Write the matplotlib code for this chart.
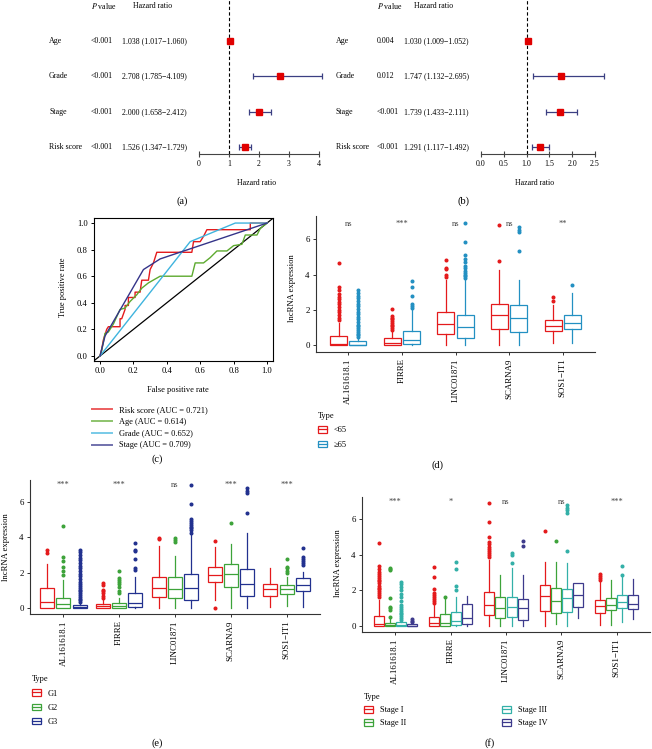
import numpy as np
import matplotlib.pyplot as plt
from matplotlib.patches import Patch
from matplotlib.lines import Line2D
from matplotlib.transforms import blended_transform_factory

plt.rcParams['font.family'] = ['Liberation Serif', 'DejaVu Serif']
plt.rcParams['mathtext.fontset'] = 'stix'

W, H = 652, 749

# ---------------- data ----------------
# forest plots (a) univariate, (b) multivariate
var_names = ["Age", "Grade", "Stage", "Risk score"]
uni_p = ["<0.001", "<0.001", "<0.001", "<0.001"]
uni_hr = [1.038, 2.708, 2.000, 1.526]
uni_lo = [1.017, 1.785, 1.658, 1.347]
uni_hi = [1.060, 4.109, 2.412, 1.729]
multi_p = ["0.004", "0.012", "<0.001", "<0.001"]
multi_hr = [1.030, 1.747, 1.739, 1.291]
multi_lo = [1.009, 1.132, 1.433, 1.117]
multi_hi = [1.052, 2.695, 2.111, 1.492]

# ROC curves (c)
risk_fpr = [0, 0.01, 0.02, 0.04, 0.05, 0.12, 0.12, 0.13, 0.15, 0.15, 0.17, 0.17, 0.21, 0.21, 0.24, 0.25,
            0.29, 0.30, 0.32, 0.33, 0.34, 0.55, 0.56, 0.60, 0.62, 0.64, 0.90, 0.90, 1.0]
risk_tpr = [0, 0.05, 0.12, 0.20, 0.22, 0.22, 0.28, 0.28, 0.35, 0.38, 0.38, 0.44, 0.44, 0.48, 0.48, 0.57,
            0.57, 0.65, 0.70, 0.74, 0.78, 0.78, 0.86, 0.86, 0.90, 0.95, 0.95, 1.0, 1.0]
age_fpr = [0, 0.01, 0.03, 0.05, 0.08, 0.12, 0.15, 0.18, 0.22, 0.25, 0.29, 0.36, 0.55, 0.57, 0.62, 0.66,
           0.70, 0.76, 0.80, 0.85, 0.87, 0.94, 0.96, 1.0]
age_tpr = [0, 0.04, 0.17, 0.18, 0.24, 0.35, 0.36, 0.41, 0.46, 0.51, 0.55, 0.60, 0.60, 0.70, 0.70, 0.74,
           0.79, 0.79, 0.83, 0.84, 0.91, 0.91, 0.96, 1.0]
grade_fpr = [0, 0.54, 0.81, 1.0]
grade_tpr = [0, 0.86, 1.0, 1.0]
stage_fpr = [0, 0.03, 0.26, 0.36, 1.0]
stage_tpr = [0, 0.15, 0.65, 0.73, 1.0]
roc_labels = ["Risk score (AUC = 0.721)", "Age (AUC = 0.614)", "Grade (AUC = 0.652)", "Stage (AUC = 0.709)"]

# boxplots (d), (e), (f)
genes = ["AL161618.1", "FIRRE", "LINC01871", "SCARNA9", "SOS1\u2212IT1"]

d_lt65_q1 = [0.0, 0.0, 0.61, 0.91, 0.81]
d_lt65_med = [0.04, 0.13, 1.18, 1.69, 1.08]
d_lt65_q3 = [0.51, 0.38, 1.89, 2.31, 1.42]
d_lt65_lo = [0.0, 0.0, 0.0, 0.0, 0.1]
d_lt65_hi = [1.25, 0.8, 3.7, 4.26, 2.27]
d_lt65_out = [[1.42, 1.55, 1.7, 1.85, 2.0, 2.15, 2.3, 2.45, 2.6, 2.75, 2.9, 3.1, 3.31, 4.66],
              [0.85, 0.95, 1.05, 1.15, 1.25, 1.35, 1.45, 1.55, 1.65, 2.05],
              [3.85, 3.95, 4.3, 4.4, 4.83], [4.79, 6.8], [2.5, 2.7]]
d_ge65_q1 = [0.0, 0.04, 0.38, 0.76, 0.89]
d_ge65_med = [0.02, 0.28, 1.0, 1.55, 1.23]
d_ge65_q3 = [0.24, 0.81, 1.7, 2.29, 1.69]
d_ge65_lo = [0.0, 0.0, 0.0, 0.0, 0.1]
d_ge65_hi = [0.35, 2.0, 3.7, 3.7, 2.94]
d_ge65_out = [[0.45, 0.55, 0.65, 0.75, 0.85, 0.95, 1.05, 1.15, 1.3, 1.45, 1.6, 1.75, 1.9, 2.05, 2.2,
               2.35, 2.5, 2.65, 2.8, 2.95, 3.12],
              [2.1, 2.2, 2.3, 2.78, 3.3, 3.65],
              [3.8, 3.9, 4.0, 4.1, 4.2, 4.35, 4.5, 4.7, 4.9, 5.1, 5.87, 6.95],
              [5.36, 6.4, 6.55, 6.7], [3.39]]
d_sig = ["ns", "***", "ns", "ns", "**"]

e_g1_q1 = [0.0, 0.0, 0.66, 1.46, 0.69]
e_g1_med = [0.34, 0.13, 1.13, 1.88, 1.09]
e_g1_q3 = [1.13, 0.24, 1.74, 2.35, 1.35]
e_g1_lo = [0.0, 0.0, 0.0, 0.47, 0.09]
e_g1_hi = [2.5, 0.5, 3.5, 3.47, 2.25]
e_g1_out = [[3.13, 3.28], [0.56, 0.7, 0.85, 0.95, 1.05, 1.3, 1.45], [3.9, 3.94], [0.0, 3.8], []]
e_g2_q1 = [0.04, 0.02, 0.56, 1.18, 0.81]
e_g2_med = [0.22, 0.12, 1.07, 1.91, 1.07]
e_g2_q3 = [0.6, 0.28, 1.74, 2.48, 1.31]
e_g2_lo = [0.0, 0.0, 0.0, 0.0, 0.13]
e_g2_hi = [1.6, 0.6, 2.95, 3.62, 1.74]
e_g2_out = [[1.88, 2.1, 2.35, 2.68, 2.87, 4.63], [0.84, 1.0, 1.2, 1.35, 1.5, 1.6, 1.69, 2.12],
            [3.75, 3.85, 3.94], [4.82], [1.97, 2.1, 2.25, 2.35, 2.76]]
e_g3_q1 = [0.0, 0.09, 0.47, 0.71, 0.98]
e_g3_med = [0.06, 0.32, 1.13, 1.37, 1.31]
e_g3_q3 = [0.19, 0.84, 1.93, 2.21, 1.69]
e_g3_lo = [0.0, 0.0, 0.0, 0.0, 0.09]
e_g3_hi = [0.26, 1.78, 4.13, 4.26, 2.06]
e_g3_out = [[0.35, 0.45, 0.55, 0.65, 0.75, 0.85, 0.95, 1.05, 1.15, 1.25, 1.35, 1.5, 1.65, 1.8, 1.95,
             2.1, 2.25, 2.4, 2.55, 2.7, 2.85, 3.0, 3.15, 3.28],
            [2.16, 2.25, 2.76, 3.2, 3.28, 3.66],
            [4.25, 4.4, 4.5, 4.6, 4.7, 4.8, 4.9, 5.0, 5.87, 6.94],
            [5.35, 6.47, 6.6, 6.75], [2.44, 2.55, 2.65, 2.75, 2.87, 3.41]]
e_sig = ["***", "***", "ns", "***", "***"]

f_s1_q1 = [0.0, 0.02, 0.62, 0.86, 0.75]
f_s1_med = [0.11, 0.15, 1.2, 1.69, 1.14]
f_s1_q3 = [0.58, 0.52, 1.89, 2.3, 1.46]
f_s1_lo = [0.0, 0.0, 0.0, 0.0, 0.06]
f_s1_hi = [1.45, 1.2, 3.7, 3.6, 2.49]
f_s1_out = [[1.65, 1.75, 1.85, 1.95, 2.05, 2.15, 2.25, 2.4, 2.5, 2.6, 2.7, 2.8, 2.9, 3.05, 3.2, 3.37, 4.64],
            [1.3, 1.4, 1.5, 1.6, 1.75, 1.84, 2.1, 2.73, 3.3],
            [3.9, 4.0, 4.1, 4.2, 4.3, 4.46, 4.6, 4.74, 4.98, 5.84, 6.89], [5.34], [2.6, 2.7, 2.8, 2.92]]
f_s2_q1 = [0.0, 0.02, 0.43, 0.71, 0.9]
f_s2_med = [0.06, 0.15, 1.01, 1.42, 1.2]
f_s2_q3 = [0.19, 0.66, 1.61, 2.12, 1.55]
f_s2_lo = [0.0, 0.0, 0.0, 0.11, 0.06]
f_s2_hi = [0.45, 1.6, 2.87, 3.61, 2.58]
f_s2_out = [[0.52, 0.9, 1.0, 1.09, 1.55, 3.15, 3.22, 3.28], [1.65], [], [4.78], []]
f_s3_q1 = [0.0, 0.04, 0.49, 0.81, 0.99]
f_s3_med = [0.08, 0.3, 1.05, 1.55, 1.33]
f_s3_q3 = [0.24, 0.79, 1.65, 2.06, 1.74]
f_s3_lo = [0.0, 0.0, 0.0, 0.0, 0.24]
f_s3_hi = [0.3, 1.65, 3.24, 3.52, 2.77]
f_s3_out = [[0.34, 0.45, 0.55, 0.65, 0.75, 0.85, 0.95, 1.05, 1.2, 1.4, 1.6, 1.8, 2.0, 2.2, 2.35, 2.49],
            [2.02, 2.25, 3.18, 3.61], [3.52, 3.99, 4.08], [4.23, 6.33, 6.5, 6.65, 6.8], [2.87, 3.39]]
f_s4_q1 = [0.0, 0.09, 0.34, 1.09, 0.94]
f_s4_med = [0.02, 0.43, 1.03, 1.74, 1.22]
f_s4_q3 = [0.09, 1.22, 1.52, 2.43, 1.74]
f_s4_lo = [0.0, 0.0, 0.0, 0.43, 0.37]
f_s4_hi = [0.12, 1.69, 2.87, 2.43, 2.64]
f_s4_out = [[0.2, 0.3, 0.37], [], [4.49, 4.79], [], []]
f_sig = ["***", "*", "ns", "ns", "***"]

RED = "#E41A1C"
BLUE = "#2390C2"
GREEN = "#3DA33A"
NAVY = "#22318F"
TEAL = "#33B0A8"
PURPLE = "#3D3A8C"
AXC = "#333333"


def rect(x0, y0, x1, y1):
    # pixel box (origin top-left) -> figure fraction
    return [x0 / W, 1 - y1 / H, (x1 - x0) / W, (y1 - y0) / H]


def fx(x):
    return x / W


def fy(y):
    return 1 - y / H


fig = plt.figure(figsize=(W / 100, H / 100), dpi=100)


# ---------------- forest plots ----------------
def forest(box, xmax, ticks, ticklabels, hr, lo, hi, pvals, xcols, xlab, label, labpos):
    ax = fig.add_axes(rect(*box))
    rows = np.arange(1, len(hr) + 1)
    ax.set_xlim(0, xmax)
    ax.set_ylim(4.2, -0.17)
    ax.axvline(1, color='black', ls=(0, (3, 2)), lw=0.8)
    ax.errorbar(hr, rows, xerr=[np.array(hr) - np.array(lo), np.array(hi) - np.array(hr)],
                fmt='none', ecolor="#3B3F82", elinewidth=0.9, capsize=2.5, capthick=0.9, clip_on=False)
    ax.plot(hr, rows, 's', color="#E00000", ms=4.2, clip_on=False, zorder=5)
    for s in ['left', 'top', 'right']:
        ax.spines[s].set_visible(False)
    ax.spines['bottom'].set_bounds(0, xmax)
    ax.spines['bottom'].set_color('#444444')
    ax.set_yticks([])
    ax.set_xticks(ticks)
    ax.set_xticklabels(ticklabels, fontsize=5.7)
    ax.tick_params(axis='x', direction='inout', length=4.5, width=0.8, color='#444444', pad=2)
    ax.patch.set_alpha(0)
    tr = blended_transform_factory(fig.transFigure, ax.transData)
    fs = 5.7
    fig.text(fx(xcols[1]), 0, r"$\it{P}$ value", fontsize=fs, va='center', transform=tr)
    fig.text(fx(xcols[3]), 0, "Hazard ratio", fontsize=fs, va='center', transform=tr)
    for i in range(len(hr)):
        fig.text(fx(xcols[0]), rows[i], var_names[i], fontsize=fs, va='center', transform=tr)
        fig.text(fx(xcols[1]), rows[i], pvals[i], fontsize=fs, va='center', transform=tr)
        fig.text(fx(xcols[2]), rows[i], "%.3f (%.3f\u2212%.3f)" % (hr[i], lo[i], hi[i]),
                 fontsize=fs, va='center', transform=tr)
    fig.text(fx(xlab[0]), fy(xlab[1]), "Hazard ratio", fontsize=fs, ha='center', va='center')
    fig.text(fx(labpos[0]), fy(labpos[1]), label, fontsize=7.5, ha='center', va='center')


forest((199, 0, 319, 154), 4, [0, 1, 2, 3, 4], ["0", "1", "2", "3", "4"],
       uni_hr, uni_lo, uni_hi, uni_p, (49, 91, 122, 133), (257, 183), "(a)", (182, 201))
forest((481, 0, 595, 154), 2.5, [0, 0.5, 1, 1.5, 2, 2.5], ["0.0", "0.5", "1.0", "1.5", "2.0", "2.5"],
       multi_hr, multi_lo, multi_hi, multi_p, (336, 377, 404, 414), (535, 183), "(b)", (463, 201))

# ---------------- ROC (c) ----------------
axc = fig.add_axes(rect(94, 218, 273, 361))
axc.plot([-0.05, 1.05], [-0.05, 1.05], color='black', lw=0.9)
roc_colors = [RED, "#5DAA2F", "#3FB4DE", "#353489"]
roc_x = [risk_fpr, age_fpr, grade_fpr, stage_fpr]
roc_y = [risk_tpr, age_tpr, grade_tpr, stage_tpr]
handles = []
for xs, ys, c in zip(roc_x, roc_y, roc_colors):
    axc.plot(xs, ys, color=c, lw=1.0)
    handles.append(Line2D([], [], color=c, lw=1.4, alpha=0.7))
axc.set_xlim(-0.036, 1.036)
axc.set_ylim(-0.038, 1.038)
ticks = [0, 0.2, 0.4, 0.6, 0.8, 1.0]
axc.set_xticks(ticks)
axc.set_yticks(ticks)
axc.set_xticklabels(["%.1f" % t for t in ticks], fontsize=6.2)
axc.set_yticklabels(["%.1f" % t for t in ticks], fontsize=6.2)
axc.tick_params(length=2.5, width=0.7, pad=2)
for s in axc.spines.values():
    s.set_linewidth(0.8)
fig.text(fx(63), fy(287), "True positive rate", rotation=90, fontsize=6, ha='center', va='center')
fig.text(fx(178), fy(390), "False positive rate", fontsize=6, ha='center', va='center')
fig.legend(handles, roc_labels, loc='upper left', bbox_to_anchor=(fx(88), fy(402)), frameon=False,
           fontsize=6, handlelength=2.4, labelspacing=0.45, handletextpad=0.8, borderpad=0)
fig.text(fx(157), fy(459), "(c)", fontsize=7.5, ha='center', va='center')


# ---------------- boxplots ----------------
def box_panel(box, ylim, groups, colors, offsets, width, sig, sig_y, ylab_pos):
    ax = fig.add_axes(rect(*box))
    for (q1, med, q3, lo, hi, out), c, off in zip(groups, colors, offsets):
        stats = []
        for j in range(len(genes)):
            stats.append(dict(q1=q1[j], med=med[j], q3=q3[j], whislo=lo[j], whishi=hi[j], fliers=out[j]))
        pos = np.arange(1, len(genes) + 1) + off
        ax.bxp(stats, positions=pos, widths=width, showcaps=False, patch_artist=True,
               manage_ticks=False,
               boxprops=dict(facecolor='white', edgecolor=c, lw=0.9),
               medianprops=dict(color=c, lw=0.9),
               whiskerprops=dict(color=c, lw=0.9),
               flierprops=dict(marker='o', ms=1.9, markerfacecolor=c, markeredgecolor=c))
    for j in range(len(genes)):
        ax.text(j + 1, sig_y, sig[j], fontsize=6, ha='center', va='center', color='#444444')
    ax.set_xlim(0.4, 5.6)
    ax.set_ylim(*ylim)
    ax.set_xticks(np.arange(1, len(genes) + 1))
    ax.set_xticklabels(genes, rotation=90, fontsize=6.4, va='top', ha='center')
    ax.set_yticks([0, 2, 4, 6])
    ax.set_yticklabels(["0", "2", "4", "6"], fontsize=6.4)
    ax.tick_params(length=2.5, width=0.7, pad=2, color=AXC)
    for s in ['top', 'right']:
        ax.spines[s].set_visible(False)
    for s in ['left', 'bottom']:
        ax.spines[s].set_color(AXC)
        ax.spines[s].set_linewidth(0.8)
    fig.text(fx(ylab_pos[0]), fy(ylab_pos[1]), "lncRNA expression", rotation=90, fontsize=6.2,
             ha='center', va='center')
    return ax


def box_handles(colors):
    return [(Patch(facecolor='white', edgecolor=c, lw=0.9), Line2D([], [], color=c, lw=0.9)) for c in colors]


# (d)
box_panel((316, 216, 595, 352), (-0.4, 7.33),
          [(d_lt65_q1, d_lt65_med, d_lt65_q3, d_lt65_lo, d_lt65_hi, d_lt65_out),
           (d_ge65_q1, d_ge65_med, d_ge65_q3, d_ge65_lo, d_ge65_hi, d_ge65_out)],
          [RED, BLUE], [-0.18, 0.18], 0.32, d_sig, 6.9, (292, 288))
lg = fig.legend(box_handles([RED, BLUE]), ["<65", "\u226565"], title="Type", loc='upper left',
                bbox_to_anchor=(fx(314), fy(408)), frameon=False, fontsize=6, title_fontsize=6,
                handlelength=1.1, handleheight=0.8, labelspacing=0.75, handletextpad=0.8,
                borderpad=0, alignment='left')
fig.text(fx(438), fy(465), "(d)", fontsize=7.5, ha='center', va='center')

# (e)
box_panel((30, 480, 320, 614), (-0.32, 7.22),
          [(e_g1_q1, e_g1_med, e_g1_q3, e_g1_lo, e_g1_hi, e_g1_out),
           (e_g2_q1, e_g2_med, e_g2_q3, e_g2_lo, e_g2_hi, e_g2_out),
           (e_g3_q1, e_g3_med, e_g3_q3, e_g3_lo, e_g3_hi, e_g3_out)],
          [RED, GREEN, NAVY], [-0.29, 0.0, 0.29], 0.25, e_sig, 6.94, (6, 547))
fig.legend(box_handles([RED, GREEN, NAVY]), ["G1", "G2", "G3"], title="Type", loc='upper left',
           bbox_to_anchor=(fx(28), fy(671)), frameon=False, fontsize=6, title_fontsize=6,
           handlelength=1.1, handleheight=0.8, labelspacing=0.75, handletextpad=0.8,
           borderpad=0, alignment='left')
fig.text(fx(157), fy(743), "(e)", fontsize=7.5, ha='center', va='center')

# (f)
box_panel((362, 497, 650, 632), (-0.34, 7.25),
          [(f_s1_q1, f_s1_med, f_s1_q3, f_s1_lo, f_s1_hi, f_s1_out),
           (f_s2_q1, f_s2_med, f_s2_q3, f_s2_lo, f_s2_hi, f_s2_out),
           (f_s3_q1, f_s3_med, f_s3_q3, f_s3_lo, f_s3_hi, f_s3_out),
           (f_s4_q1, f_s4_med, f_s4_q3, f_s4_lo, f_s4_hi, f_s4_out)],
          [RED, GREEN, TEAL, PURPLE], [-0.3, -0.1, 0.1, 0.3], 0.18, f_sig, 6.98, (338, 563))
fig.legend(box_handles([RED, GREEN, TEAL, PURPLE]), ["Stage I", "Stage II", "Stage III", "Stage IV"],
           title="Type", loc='upper left', ncol=2,
           bbox_to_anchor=(fx(360), fy(689)), frameon=False, fontsize=6, title_fontsize=6,
           handlelength=1.1, handleheight=0.8, labelspacing=0.6, handletextpad=0.8,
           columnspacing=11.5, borderpad=0, alignment='left')
fig.text(fx(490), fy(743), "(f)", fontsize=7.5, ha='center', va='center')

fig.savefig("out.png", dpi=100)
